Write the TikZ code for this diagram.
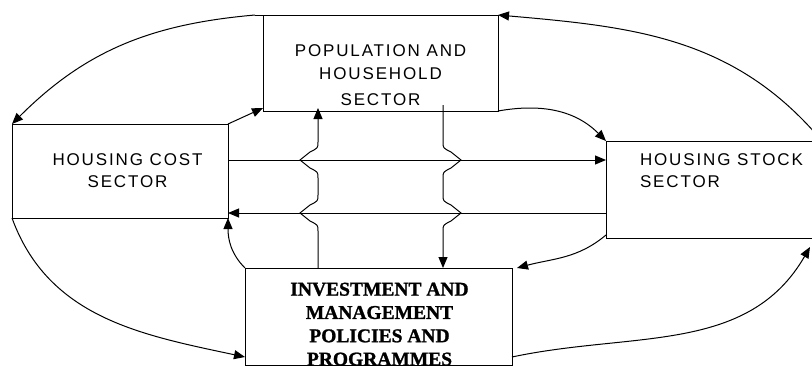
\documentclass[tikz,border=0pt]{standalone}
\usepackage{fontspec}
\newfontfamily\labsans[LetterSpace=11]{Liberation Sans}
\newfontfamily\labserif[FakeBold=1.2]{Liberation Serif}
\usetikzlibrary{arrows.meta,calc}
\begin{document}
\begin{tikzpicture}[x=1pt,y=-1pt,
  box/.style={draw, line width=1pt, inner sep=0pt, outer sep=0pt, rectangle},
  sanslab/.style={font=\labsans\fontsize{17}{22.3}\selectfont, inner sep=0pt, outer sep=0pt},
  seriflab/.style={font=\labserif\bfseries\fontsize{19.5}{23.3}\selectfont, inner sep=0pt, outer sep=0pt, align=center},
  conn/.style={line width=1pt, -{Triangle[length=11pt,width=9pt]}},
  plainline/.style={line width=1pt}]
\useasboundingbox (0,0) rectangle (812,367);
% boxes
\node[box, minimum width=235pt, minimum height=96pt] (pop) at (380.5,63) {};
\node[box, minimum width=216pt, minimum height=94pt] (cost) at (120,171) {};
\node[box, minimum width=216pt, minimum height=97pt] (stock) at (714,189.5) {};
\node[box, minimum width=267pt, minimum height=97pt] (inv) at (378.5,316.5) {};
% texts
\node[sanslab, align=center, anchor=north] (poptxt) at (380.5,45) {POPULATION AND\\HOUSEHOLD\\[4pt]SECTOR};
\node[sanslab, align=center, anchor=north] (costtxt) at (127.5,153.3) {HOUSING COST\\SECTOR};
\node[sanslab, align=left, anchor=north west] (stocktxt) at (640,153.3) {HOUSING STOCK\\SECTOR};
\node[seriflab, anchor=north] (invtxt) at (379.5,282.7) {INVESTMENT AND\\MANAGEMENT\\POLICIES AND\\PROGRAMMES};
% coordinates
\coordinate (h1s) at ($(cost.north east)+(0,36)$);
\coordinate (h1e) at ($(stock.north west)+(0,19)$);
\coordinate (h2s) at ($(stock.north west)+(0,72)$);
\coordinate (h2e) at ($(cost.north east)+(0,89)$);
\coordinate (u0) at ($(inv.north west)+(73,0)$);
\coordinate (u1) at ($(pop.south west)+(55,-3)$);
\coordinate (d0) at ($(pop.south west)+(180,-6)$);
\coordinate (d1) at ($(inv.north west)+(198,0)$);
\coordinate (stockin) at (810,247);
% curved connectors
\draw[conn] ($(pop.north west)+(-8,0)$) to[out=185,in=45] (cost.north west);
\draw[plainline] (pop.north west) -- ($(pop.north west)+(-8,0)$);
\draw[conn] (cost.north east) -- ($(pop.south west)+(0,-3)$);
\draw[conn] (stock.north east) to[out=130,in=-5] (pop.north east);
\draw[conn] (pop.south east) to[out=10,in=135] (stock.north west);
\draw[conn] (inv.north west) to[out=135,in=-90] (cost.south east);
\draw[conn] ($(stock.south west)+(0,-3)$) to[out=-140,in=15] ($(inv.north east)+(5,0)$);
\draw[conn] (cost.south west) to[out=-70,in=168] ($(inv.south west)+(0,-8)$);
\draw[conn] ($(inv.south east)+(0,-8)$) to[out=12,in=-120] (stockin);
% horizontal connectors
\draw[conn] (h1s) -- (h1e);
\draw[conn] (h2s) -- (h2e);
% vertical connectors with jumps
\draw[conn] (u0) -- (318,231) .. controls (318,225) .. (310,221) -- (300,213) -- (310,205) .. controls (318,201) .. (318,195)
  -- (318,178) .. controls (318,172) .. (310,168) -- (300,160) -- (310,152) .. controls (318,148) .. (318,142) -- (u1);
\draw[conn] (d0) -- (443,142) .. controls (443,148) .. (451,152) -- (461,160) -- (451,168) .. controls (443,172) .. (443,178)
  -- (443,195) .. controls (443,201) .. (451,205) -- (461,213) -- (451,221) .. controls (443,225) .. (443,231) -- (d1);
\end{tikzpicture}
\end{document}
